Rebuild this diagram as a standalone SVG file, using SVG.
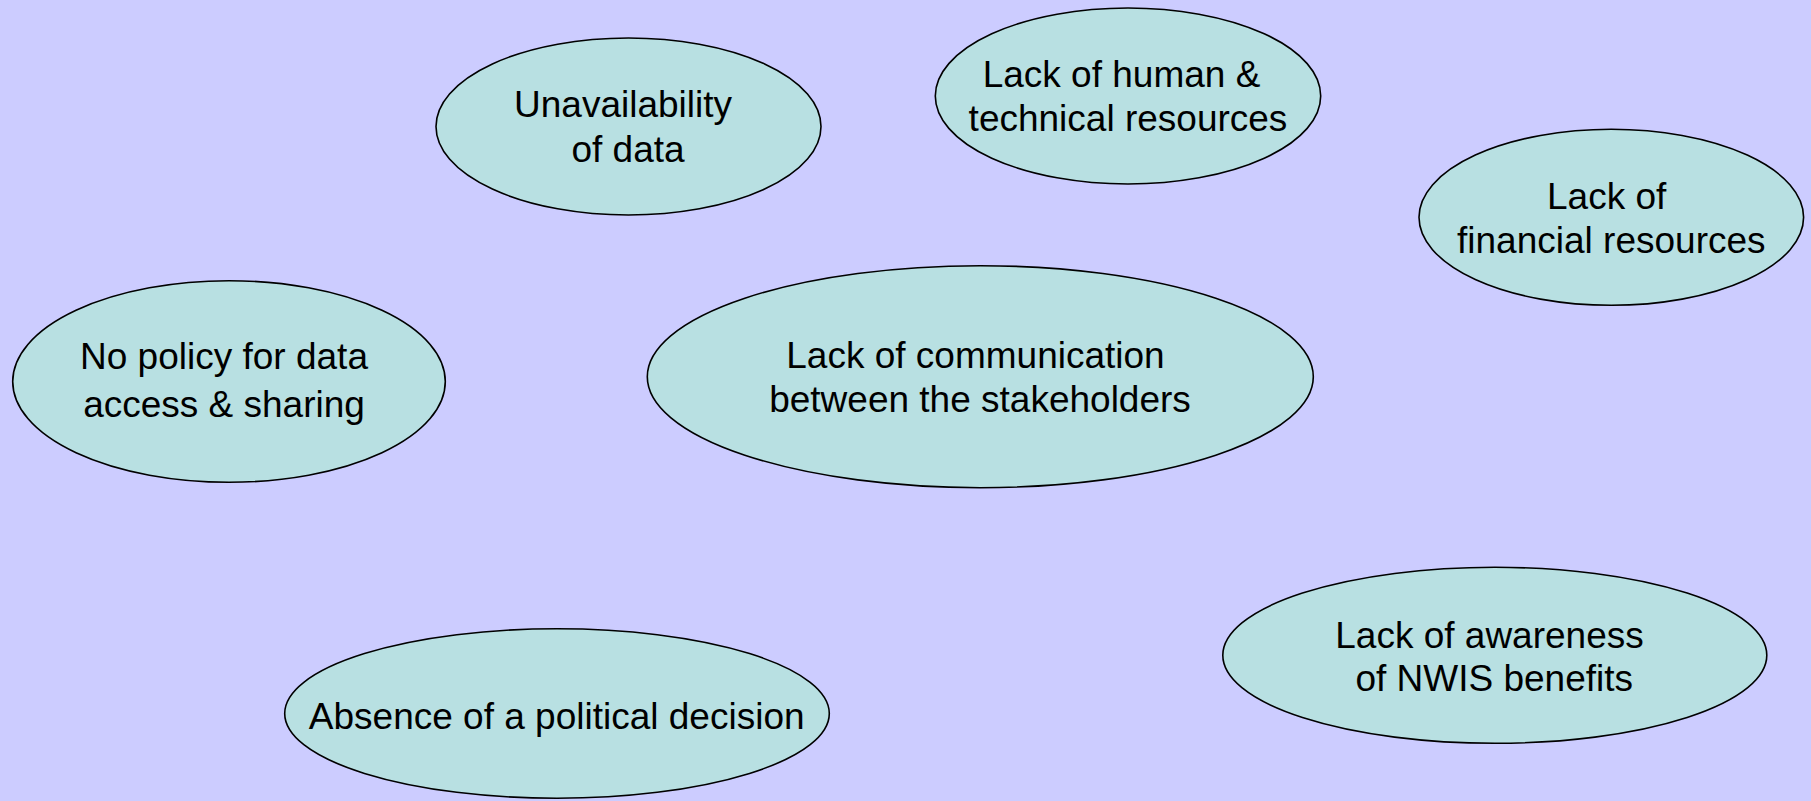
<svg xmlns="http://www.w3.org/2000/svg" width="1811" height="801" viewBox="0 0 1811 801">
<style>
.n ellipse{fill:#B8E0E2;stroke:#000;stroke-width:1.6}
.n text{font-family:"Liberation Sans",Arial,sans-serif;font-size:37px;fill:#000;text-anchor:middle}
</style>
<rect x="0" y="0" width="1811" height="801" fill="#CCCCFF"/>
<g id="connectors"></g>
<g id="n-unavailability" class="n">
<ellipse cx="628.5" cy="126.5" rx="192.5" ry="88.5"/>
<text x="623" y="117">Unavailability</text>
<text x="628" y="161.5">of data</text>
</g>
<g id="n-human" class="n">
<ellipse cx="1128" cy="96" rx="192.7" ry="88"/>
<text x="1121.5" y="86.5">Lack of human &amp;</text>
<text x="1128" y="131">technical resources</text>
</g>
<g id="n-financial" class="n">
<ellipse cx="1611.3" cy="217.3" rx="192.3" ry="88"/>
<text x="1606.7" y="209.3">Lack of</text>
<text x="1611.3" y="253.3">financial resources</text>
</g>
<g id="n-policy" class="n">
<ellipse cx="229" cy="381.5" rx="216.3" ry="100.8"/>
<text x="224" y="369.3">No policy for data</text>
<text x="224" y="416.7">access &amp; sharing</text>
</g>
<g id="n-communication" class="n">
<ellipse cx="980.3" cy="376.7" rx="333" ry="111"/>
<text x="975.5" y="367.7">Lack of communication</text>
<text x="980" y="411.7">between the stakeholders</text>
</g>
<g id="n-political" class="n">
<ellipse cx="557" cy="713.5" rx="272.3" ry="84.7"/>
<text x="556.7" y="729">Absence of a political decision</text>
</g>
<g id="n-awareness" class="n">
<ellipse cx="1494.8" cy="655.3" rx="272" ry="88"/>
<text x="1489.5" y="648.3">Lack of awareness</text>
<text x="1494.2" y="691">of NWIS benefits</text>
</g>
</svg>
